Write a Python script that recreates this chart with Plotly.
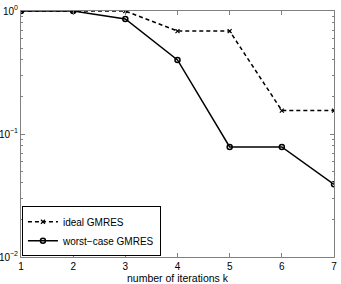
import plotly.graph_objects as go

k = [1, 2, 3, 4, 5, 6, 7]
ideal = [1.0, 1.0, 1.0, 0.687, 0.687, 0.155, 0.155]
worst = [1.0, 1.0, 0.861, 0.40, 0.0784, 0.0784, 0.039]
x_ticks = [1, 2, 3, 4, 5, 6, 7]
y_ticks = [1, 0.1, 0.01]
y_ticktext = ["10<sup>0</sup>", "10<sup>\u22121</sup>", "10<sup>\u22122</sup>"]
minor_vals = [m * 10.0 ** e for e in (-2, -1) for m in range(2, 10)]

fig = go.Figure()
fig.add_trace(go.Scatter(
    x=k, y=ideal, name="ideal GMRES", mode="lines+markers",
    line=dict(color="black", width=1.5, dash="4px,3px"),
    marker=dict(symbol="x-thin", size=4, line=dict(color="black", width=1.2)),
))
fig.add_trace(go.Scatter(
    x=k, y=worst, name="worst\u2212case GMRES", mode="lines+markers",
    line=dict(color="black", width=1.5),
    marker=dict(symbol="circle-open", size=5, color="black", line=dict(width=1.5)),
))

axis_common = dict(
    showgrid=False, zeroline=False, showline=True, linecolor="#808080", linewidth=1,
    mirror="ticks", ticks="inside", ticklen=4, tickcolor="#808080", automargin=False,
    tickfont=dict(family="Liberation Sans, Arial", size=10, color="black"),
)
fig.update_xaxes(
    range=[1, 7], tickvals=x_ticks, **axis_common,
    title=dict(text="number of iterations k", standoff=0,
               font=dict(family="Liberation Sans, Arial", size=10.5, color="black")),
)
fig.update_yaxes(
    type="log", range=[-2, 0], tickvals=y_ticks, ticktext=y_ticktext, **axis_common,
    minor=dict(tickvals=minor_vals, ticks="inside", ticklen=2, tickcolor="#808080", showgrid=False),
)
fig.update_layout(
    width=341, height=284,
    margin=dict(l=21, r=7, t=11, b=27),
    plot_bgcolor="white", paper_bgcolor="white",
    legend=dict(x=0.003, y=0.003, xanchor="left", yanchor="bottom",
                bordercolor="black", borderwidth=1, bgcolor="white",
                font=dict(family="Liberation Sans, Arial", size=10, color="black"),
                tracegroupgap=0, itemwidth=30),
)
fig.write_html("out.html", config={"displayModeBar": False},
               post_script="document.body.style.margin='0';")
